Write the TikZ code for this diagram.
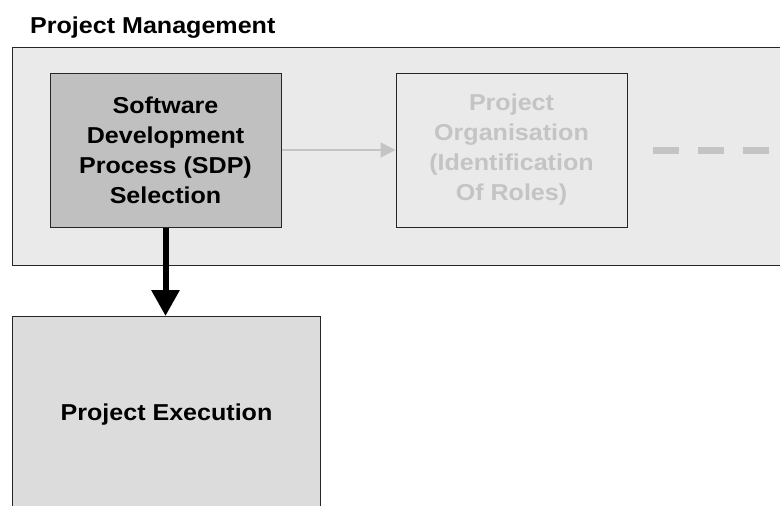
\documentclass[tikz,border=0pt]{standalone}
\usepackage{fontspec}
\setmainfont{Liberation Sans}[FakeStretch=1.09]
\usetikzlibrary{arrows.meta}
\definecolor{panelgray}{HTML}{EAEAEA}
\definecolor{activegray}{HTML}{C0C0C0}
\definecolor{fadedgray}{HTML}{C4C4C4}
\definecolor{execgray}{HTML}{DCDCDC}
\begin{document}
\begin{tikzpicture}[x=1pt,y=-1pt,
  txt/.style={font=\bfseries\fontsize{23}{30}\selectfont, align=center},
  panel/.style={draw=black!85, line width=1.4pt, fill=panelgray, inner sep=0pt},
  stepbox/.style={draw=black!85, line width=1pt, inner sep=0pt,
    minimum width=231pt, minimum height=154pt, txt},
]
\useasboundingbox (0,0) rectangle (780,506);
\clip (0,0) rectangle (780,506);
\fill[white] (0,0) rectangle (780,506);

% title
\node[anchor=base west, inner sep=0pt, font=\bfseries\fontsize{23}{28}\selectfont] (title) at (30,33) {Project Management};

% project management panel (runs past the right edge)
\node[panel, anchor=north west, minimum width=800pt, minimum height=218pt] (pm) at (12,47) {};

% steps inside the panel
\node[stepbox, fill=activegray] (sdp) at (165.5,150)
  {Software\\Development\\Process (SDP)\\Selection};
\node[stepbox, fill=panelgray, text=fadedgray] (org) at (511.5,150)
  {Project\\Organisation\\(Identification\\Of Roles)};

\draw[fadedgray, line width=1.5pt, -{Triangle[length=15pt,width=15pt]}] (sdp) -- (org);

% further steps, hinted
\coordinate (more) at ([xshift=25pt]org.east);
\draw[fadedgray, line width=7pt, dash pattern=on 26pt off 19pt] (more) -- ++(160,0);

% project execution
\node[draw=black!85, line width=1pt, fill=execgray, anchor=north west, inner sep=0pt,
  minimum width=308pt, minimum height=196pt, txt] (exec) at (12,316) {Project Execution};

\draw[black, line width=6pt, -{Triangle[length=26pt,width=27pt]}] (sdp.south) -- (sdp.south |- exec.north);
\end{tikzpicture}
\end{document}
